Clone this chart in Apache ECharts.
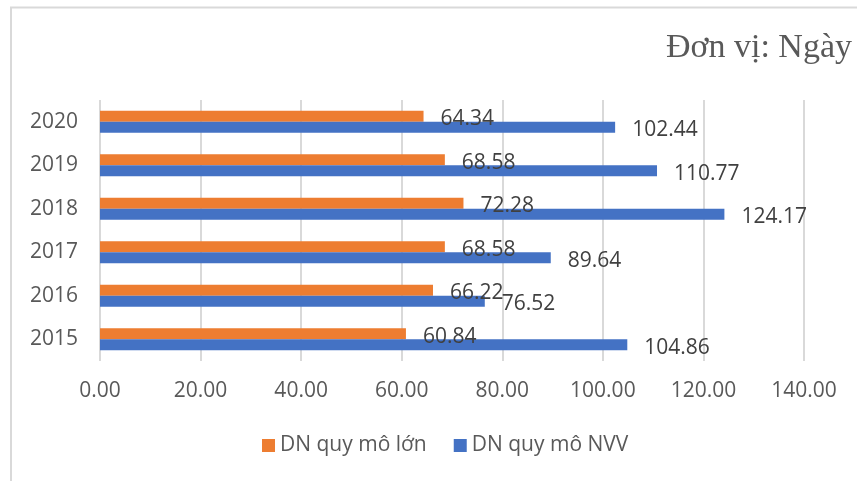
<!DOCTYPE html>
<html>
<head>
<meta charset="utf-8">
<script src="https://cdn.jsdelivr.net/npm/echarts@6/dist/echarts.min.js"></script>
<style>
  html, body { margin: 0; padding: 0; background: #fff; }
  #chart { width: 857px; height: 481px; }
</style>
</head>
<body>
<div id="chart"></div>
<script>
// Years on the category axis (bottom to top)
const years = ['2015', '2016', '2017', '2018', '2019', '2020'];
// Average days per year for each firm group
const largeFirms = [60.84, 66.22, 68.58, 72.28, 68.58, 64.34];
const smeFirms = [104.86, 76.52, 89.64, 124.17, 110.77, 102.44];
const seriesNames = ['DN quy mô lớn', 'DN quy mô NVV'];
const unitTitle = 'Đơn vị: Ngày';

const font = '"Open Sans", "Noto Sans", sans-serif';

const labelStyle = {
  show: true,
  position: 'right',
  distance: 17,
  offset: [0, 3],
  fontFamily: font,
  fontSize: 21,
  color: '#404040',
  formatter: p => p.value.toFixed(2)
};

const chart = echarts.init(document.getElementById('chart'), null, { renderer: 'canvas' });
chart.setOption({
  animation: false,
  backgroundColor: '#fff',
  title: {
    text: unitTitle,
    right: 0,
    top: 26,
    textStyle: {
      fontFamily: '"Liberation Serif", "DejaVu Serif", serif',
      fontWeight: 'normal',
      fontSize: 34,
      color: '#595959'
    }
  },
  legend: {
    data: seriesNames,
    left: 257,
    top: 430,
    itemWidth: 13,
    itemHeight: 13,
    itemGap: 27,
    icon: 'rect',
    textStyle: { fontFamily: font, fontSize: 21, color: '#595959' }
  },
  grid: { left: 100, right: 53, top: 100, bottom: 120, containLabel: false },
  xAxis: {
    type: 'value',
    min: 0,
    max: 140,
    interval: 20,
    axisLine: { show: false },
    axisTick: { show: false },
    splitLine: { lineStyle: { color: '#d9d9d9', width: 2 } },
    axisLabel: {
      margin: 20,
      fontFamily: font,
      fontSize: 21,
      color: '#595959',
      formatter: v => v.toFixed(2)
    }
  },
  yAxis: {
    type: 'category',
    data: years,
    axisLine: { show: false },
    axisTick: { show: false },
    axisLabel: { margin: 22, fontFamily: font, fontSize: 21, color: '#595959' }
  },
  series: [
    {
      name: seriesNames[0],
      type: 'bar',
      data: largeFirms,
      itemStyle: { color: '#ED7D31' },
      barGap: '0%',
      barCategoryGap: '49%',
      label: labelStyle
    },
    {
      name: seriesNames[1],
      type: 'bar',
      data: smeFirms,
      itemStyle: { color: '#4472C4' },
      barGap: '0%',
      barCategoryGap: '49%',
      label: labelStyle
    }
  ],
  graphic: [{
    type: 'polyline',
    shape: { points: [[11, 481], [11, 7.5], [857, 7.5]] },
    style: { stroke: '#d9d9d9', lineWidth: 2, fill: null }
  }]
});
</script>
</body>
</html>
